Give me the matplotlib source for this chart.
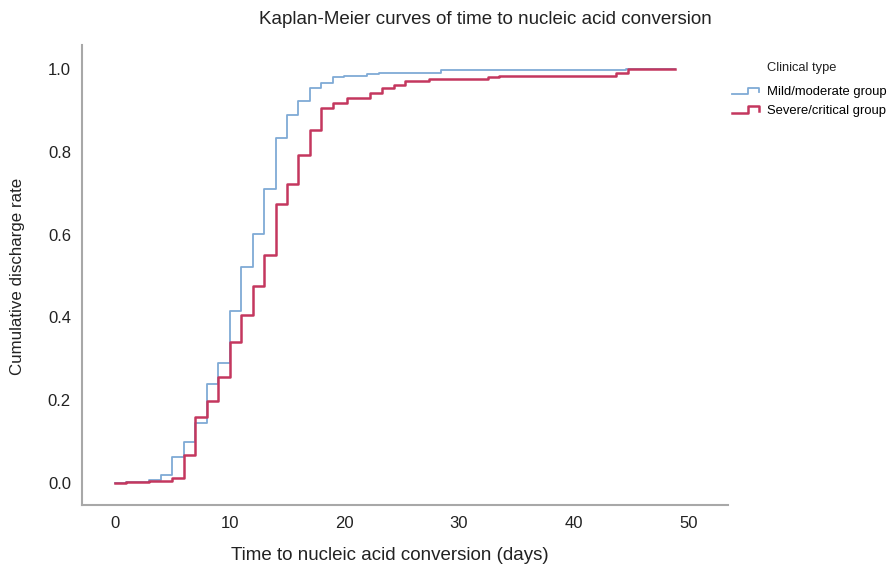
import matplotlib.pyplot as plt
from matplotlib.lines import Line2D
from matplotlib.legend_handler import HandlerLine2D

plt.rcParams['font.family'] = ['Liberation Sans', 'DejaVu Sans']

# step times (days) and cumulative discharge rate
mild_t = [0, 1, 3, 4, 5, 6, 7, 8, 9, 10, 11, 12, 13, 14, 15, 16, 17, 18, 19, 20,
          22, 23, 28.4, 44.6, 48.8]
mild_y = [0.0, 0.003, 0.008, 0.019, 0.063, 0.098, 0.146, 0.239, 0.291, 0.415, 0.521,
          0.602, 0.709, 0.834, 0.889, 0.923, 0.953, 0.967, 0.980, 0.983, 0.988, 0.991,
          0.998, 1.0, 1.0]
severe_t = [0, 1, 3, 5, 6, 7, 8, 9, 10, 11, 12, 13, 14, 15, 16, 17, 18, 19, 20.2,
            22.2, 23.3, 24.3, 25.3, 27.4, 32.5, 33.5, 43.7, 44.7, 48.8]
severe_y = [0.0, 0.002, 0.005, 0.013, 0.068, 0.160, 0.197, 0.255, 0.341, 0.407, 0.475,
            0.551, 0.675, 0.723, 0.792, 0.852, 0.905, 0.917, 0.929, 0.941, 0.953, 0.961,
            0.971, 0.976, 0.980, 0.984, 0.991, 1.0, 1.0]
labels = ['Mild/moderate group', 'Severe/critical group']
colors = ['#7faad6', '#c4375e']


class StepHandler(HandlerLine2D):
    def create_artists(self, legend, orig_handle, xdescent, ydescent, width, height,
                       fontsize, trans):
        x0, y0 = -xdescent, -ydescent
        xs = [x0, x0 + width * 0.6, x0 + width * 0.6, x0 + width, x0 + width]
        ys = [y0 + height * 0.1, y0 + height * 0.1, y0 + height * 0.8,
              y0 + height * 0.8, y0 + height * 0.35]
        ln = Line2D(xs, ys, color=orig_handle.get_color(),
                    linewidth=orig_handle.get_linewidth(), transform=trans)
        return [ln]


fig = plt.figure(figsize=(8.88, 5.67), dpi=100)
ax = fig.add_axes([82 / 888, 1 - 505 / 567, (728 - 82) / 888, (505 - 45) / 567])

l1, = ax.step(mild_t, mild_y, where='post', color=colors[0], lw=1.3, label=labels[0])
l2, = ax.step(severe_t, severe_y, where='post', color=colors[1], lw=1.8, label=labels[1])

x0px, x50px = 115, 688.3
ppd = (x50px - x0px) / 50
ax.set_xlim((82 - x0px) / ppd, (728 - x0px) / ppd)
y0px, y1px = 483, 69
ppu = y0px - y1px
ax.set_ylim((y0px - 505) / ppu, (y0px - 45) / ppu)

ax.set_xticks([0, 10, 20, 30, 40, 50])
ax.set_yticks([0.0, 0.2, 0.4, 0.6, 0.8, 1.0])
ax.set_yticklabels(['0.0', '0.2', '0.4', '0.6', '0.8', '1.0'])
ax.tick_params(length=0, labelsize=12, colors='#222222')
ax.tick_params(axis='y', pad=8)
ax.tick_params(axis='x', pad=8)
for s in ['top', 'right']:
    ax.spines[s].set_visible(False)
for s in ['left', 'bottom']:
    ax.spines[s].set_color('#a8a8a8')
    ax.spines[s].set_linewidth(1.5)

fig.text(485 / 888, 1 - 20 / 567, 'Kaplan-Meier curves of time to nucleic acid conversion',
         ha='center', va='center', fontsize=13.5, color='#222222')
fig.text(390 / 888, 1 - 555 / 567, 'Time to nucleic acid conversion (days)',
         ha='center', va='center', fontsize=13.5, color='#222222')
fig.text(18 / 888, 1 - 276 / 567, 'Cumulative discharge rate', rotation=90,
         ha='center', va='center', fontsize=12.2, color='#222222')
fig.text(767 / 888, 1 - 68 / 567, 'Clinical type', ha='left', va='center',
         fontsize=9.3, color='#222222')

ax.legend(handles=[l1, l2], loc='upper left', bbox_to_anchor=(732 / 888, 1 - 86 / 567),
          bbox_transform=fig.transFigure, frameon=False, fontsize=9.4,
          handlelength=2.1, handletextpad=0.55, borderpad=0, borderaxespad=0,
          labelspacing=0.5, handler_map={Line2D: StepHandler()})

fig.savefig('out.png', dpi=100)
